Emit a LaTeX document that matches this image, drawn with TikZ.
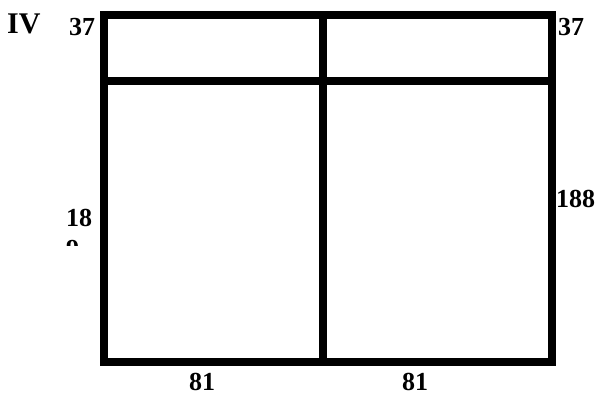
\documentclass[tikz,border=0pt]{standalone}
\usepackage{fontspec}
\setmainfont{Liberation Serif}
\usetikzlibrary{positioning}

\begin{document}
\begin{tikzpicture}[x=1pt, y=-1pt,
  wall/.style={line width=7.5pt},
  dim/.style={font=\fontsize{26}{31}\selectfont\bfseries, inner sep=0pt, anchor=base west}]
  \useasboundingbox (0,0) rectangle (598,397);
  \coordinate (nw) at (104,15);
  \coordinate (ne) at (552,15);
  \coordinate (sw) at (104,362);
  \coordinate (se) at (552,362);
  \coordinate (wl) at (104,81);
  \coordinate (el) at (552,81);
  \coordinate (nm) at (323,15);
  \coordinate (sm) at (323,362);
  \draw[wall] (nw) -- (ne) -- (se) -- (sw) -- cycle;
  \draw[wall] (wl) -- (el);
  \draw[wall] (nm) -- (sm);
  \node[dim, font=\fontsize{30}{35}\selectfont\bfseries] (name) at (7,33) {IV};
  \node[dim] (topl) at (69,35) {37};
  \node[dim] (topr) at (558,35) {37};
  \node[dim] (left) at (66,226) {18};
  \begin{scope}
    \clip (60,230) rectangle (100,245);
    \node[dim] (leftcut) at (66,257) {9};
  \end{scope}
  \node[dim] (right) at (556,207) {188};
  \node[dim] (botl) at (189,390) {81};
  \node[dim] (botr) at (402,390) {81};
\end{tikzpicture}
\end{document}
